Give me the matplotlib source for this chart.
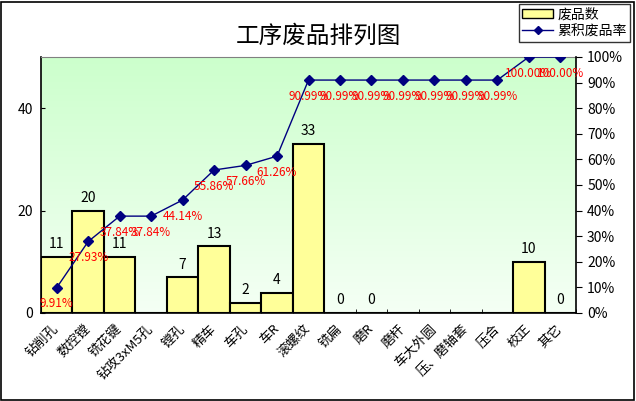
import matplotlib
matplotlib.use("Agg")
import matplotlib.pyplot as plt
import numpy as np
from matplotlib.patches import Rectangle
from matplotlib.lines import Line2D
from matplotlib.patches import Patch

plt.rcParams['font.family'] = ['Noto Sans CJK SC', 'DejaVu Sans']

categories = ["钻削孔", "数控镗", "铣花键", "钻攻3xM5孔", "镗孔", "精车", "车孔", "车R",
              "滚螺纹", "铣扁", "磨R", "磨杆", "车大外圆", "压、磨轴套", "压合", "校正", "其它"]
counts = [11, 20, 11, None, 7, 13, 2, 4, 33, 0, 0, None, None, None, None, 10, 0]
cum_pct = [9.91, 27.93, 37.84, 37.84, 44.14, 55.86, 57.66, 61.26, 90.99, 90.99, 90.99,
           90.99, 90.99, 90.99, 90.99, 100.00, 100.00]
left_ticks = [0, 20, 40]
right_ticks = [0, 10, 20, 30, 40, 50, 60, 70, 80, 90, 100]

W, H = 636, 401
fig = plt.figure(figsize=(W / 100, H / 100), dpi=100)
fig.patch.set_facecolor('white')

l, r, b, t = 41, 576, 313, 57
ax = fig.add_axes([l / W, 1 - b / H, (r - l) / W, (b - t) / H])
x = np.arange(len(categories))
heights = [0 if c is None else c for c in counts]

# gradient background (light green at top fading to near white at bottom)
grad = np.linspace(0, 1, 256).reshape(-1, 1)
top_c = np.array([0.80, 1.0, 0.80])
bot_c = np.array([0.96, 1.0, 0.96])
img = top_c[None, None, :] * (1 - grad[..., None]) + bot_c[None, None, :] * grad[..., None]
ax.imshow(img, extent=[-0.5, len(categories) - 0.5, 0, 50], origin='upper',
          aspect='auto', zorder=0)
ax.set_xlim(-0.5, len(categories) - 0.5)
ax.set_ylim(0, 50)

ax.bar(x, heights, width=1.0, color='#ffff99', edgecolor='black', linewidth=1.5, zorder=2)
for xi, c in zip(x, counts):
    if c is not None:
        ax.annotate(str(c), (xi, c), xytext=(0, 4), textcoords='offset points',
                    ha='center', va='bottom', fontsize=10, color='black', zorder=5)

ax.set_yticks(left_ticks)
ax.set_yticklabels([str(v) for v in left_ticks], fontsize=10)
ax.tick_params(axis='y', direction='in', length=3, pad=6)
ax.set_xticks(np.arange(len(categories) + 1) - 0.5, minor=True)
ax.set_xticks(x)
ax.set_xticklabels(categories, rotation=45, ha='right', va='center',
                   rotation_mode='anchor', fontsize=9.5)
ax.tick_params(axis='x', which='major', length=0, pad=10)
ax.tick_params(axis='x', which='minor', direction='in', length=3)
for s in ['left', 'bottom']:
    ax.spines[s].set_color('black')
    ax.spines[s].set_linewidth(1.2)
ax.spines['top'].set_color('#808080')
ax.spines['right'].set_visible(False)

ax2 = ax.twinx()
ax2.set_ylim(0, 100)
ax2.plot(x, cum_pct, color='#000080', linewidth=1, marker='D', markersize=5,
         markerfacecolor='#000080', markeredgecolor='#000080', zorder=4)
for xi, p in zip(x, cum_pct):
    ax2.annotate(f"{p:.2f}%", (xi, p), xytext=(0, -7), textcoords='offset points',
                 ha='center', va='top', fontsize=8.5, color='red', zorder=6)
ax2.set_yticks(right_ticks)
ax2.set_yticklabels([f"{v}%" for v in right_ticks], fontsize=10)
ax2.tick_params(axis='y', direction='out', length=4, pad=4)
ax2.spines['right'].set_color('black')
ax2.spines['right'].set_linewidth(1.2)
for s in ['left', 'top', 'bottom']:
    ax2.spines[s].set_visible(False)

fig.text(318 / W, 1 - 36 / H, "工序废品排列图", ha='center', va='center', fontsize=17)

handles = [Patch(facecolor='#ffff99', edgecolor='black', linewidth=1),
           Line2D([0], [0], color='#000080', marker='D', markersize=4, linewidth=1)]
leg = fig.legend(handles, ["废品数", "累积废品率"], loc='upper right',
                 bbox_to_anchor=(630 / W, 1 - 4 / H), fontsize=10, frameon=True,
                 fancybox=False, edgecolor='black', borderpad=0.25, labelspacing=0.2,
                 handlelength=2.2, handletextpad=0.3, borderaxespad=0)
leg.get_frame().set_linewidth(1)

fig.patches.append(Rectangle((0.5 / W, 1.5 / H), (W - 3) / W, (H - 3) / H,
                             transform=fig.transFigure, fill=False,
                             edgecolor='black', linewidth=1.2))

fig.savefig('out.png', dpi=100)
